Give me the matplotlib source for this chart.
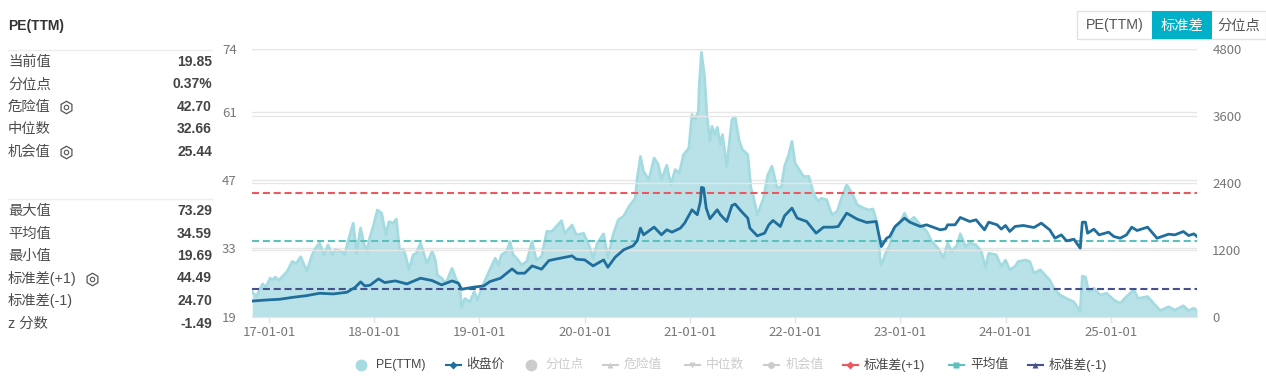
import matplotlib
matplotlib.use('Agg')
import matplotlib.pyplot as plt
from matplotlib.lines import Line2D
from matplotlib.patches import Rectangle

plt.rcParams['font.family'] = ['Liberation Sans', 'Noto Sans CJK SC']

W, H = 1266, 388

# PE(TTM)
pe_t = [2016.84, 2016.85, 2016.88, 2016.91, 2016.94, 2016.97, 2017.01, 2017.03, 2017.06, 2017.09,
        2017.14, 2017.17, 2017.22, 2017.26, 2017.30, 2017.34, 2017.36, 2017.41, 2017.44, 2017.48,
        2017.52, 2017.56, 2017.60, 2017.63, 2017.69, 2017.72, 2017.75, 2017.80, 2017.83, 2017.87,
        2017.90, 2017.93, 2017.96, 2017.99, 2018.03, 2018.07, 2018.11, 2018.14, 2018.18, 2018.21,
        2018.24, 2018.28, 2018.30, 2018.33, 2018.37, 2018.40, 2018.44, 2018.48, 2018.50, 2018.55,
        2018.58, 2018.60, 2018.64, 2018.68, 2018.74, 2018.78, 2018.81, 2018.83, 2018.86, 2018.91,
        2018.95, 2018.98, 2019.04, 2019.09, 2019.15, 2019.18, 2019.21, 2019.26, 2019.29, 2019.32,
        2019.36, 2019.40, 2019.45, 2019.50, 2019.54, 2019.59, 2019.64, 2019.69, 2019.73, 2019.78,
        2019.81, 2019.88, 2019.92, 2019.99, 2020.04, 2020.08, 2020.12, 2020.18, 2020.22, 2020.27,
        2020.32, 2020.37, 2020.42, 2020.48, 2020.50, 2020.53, 2020.56, 2020.61, 2020.66, 2020.70,
        2020.73, 2020.78, 2020.82, 2020.86, 2020.90, 2020.94, 2020.99, 2021.02, 2021.05, 2021.08,
        2021.09, 2021.11, 2021.14, 2021.16, 2021.19, 2021.21, 2021.24, 2021.26, 2021.29, 2021.31,
        2021.35, 2021.40, 2021.43, 2021.47, 2021.50, 2021.55, 2021.58, 2021.60, 2021.64, 2021.70,
        2021.74, 2021.78, 2021.83, 2021.87, 2021.90, 2021.94, 2021.97, 2022.00, 2022.05, 2022.08,
        2022.13, 2022.18, 2022.22, 2022.25, 2022.30, 2022.35, 2022.40, 2022.44, 2022.49, 2022.54,
        2022.59, 2022.65, 2022.70, 2022.74, 2022.78, 2022.81, 2022.82, 2022.86, 2022.90, 2022.94,
        2022.98, 2023.04, 2023.08, 2023.13, 2023.19, 2023.25, 2023.30, 2023.36, 2023.41, 2023.45,
        2023.49, 2023.54, 2023.57, 2023.62, 2023.66, 2023.72, 2023.77, 2023.81, 2023.84, 2023.91,
        2023.96, 2024.00, 2024.04, 2024.09, 2024.12, 2024.19, 2024.23, 2024.27, 2024.33, 2024.42,
        2024.46, 2024.52, 2024.58, 2024.65, 2024.71, 2024.73, 2024.76, 2024.79, 2024.84, 2024.90,
        2024.96, 2025.03, 2025.09, 2025.15, 2025.22, 2025.26, 2025.35, 2025.42, 2025.47, 2025.55,
        2025.61, 2025.69, 2025.74, 2025.79, 2025.82]
pe_v = [24.1, 23.8, 23.1, 24.5, 25.7, 25.0, 26.9, 26.5, 27.1, 26.4,
        27.5, 28.2, 30.3, 29.9, 31.3, 29.3, 28.4, 31.7, 33.0, 34.1,
        31.7, 33.7, 31.7, 32.7, 32.4, 31.7, 34.4, 38.2, 32.0, 37.2,
        34.1, 32.4, 35.4, 37.5, 40.9, 40.25, 35.8, 38.5, 38.2, 39.0,
        32.7, 32.7, 31.3, 28.6, 31.7, 32.0, 34.1, 31.3, 29.9, 32.4,
        30.6, 27.5, 26.9, 25.8, 28.9, 26.5, 25.5, 20.9, 22.7, 22.0,
        24.1, 22.4, 25.8, 28.2, 31.0, 29.6, 31.7, 32.4, 34.4, 31.7,
        30.8, 29.6, 30.3, 34.4, 30.6, 31.3, 36.5, 36.5, 37.5, 38.7,
        36.1, 37.8, 35.8, 36.1, 33.7, 31.0, 34.1, 36.0, 31.0, 35.8,
        38.9, 39.6, 41.6, 43.3, 47.5, 51.9, 48.8, 47.1, 51.6, 50.2,
        47.1, 50.1, 46.1, 49.2, 48.5, 52.3, 53.6, 60.5, 59.5, 61.2,
        66.7, 73.3, 68.1, 60.8, 55.0, 58.1, 56.4, 57.9, 54.3, 56.4,
        49.9, 59.5, 60.0, 55.0, 53.3, 52.3, 45.4, 44.0, 39.9, 43.3,
        48.1, 49.9, 45.4, 45.7, 49.9, 52.3, 55.0, 50.5, 48.8, 47.8,
        47.8, 44.0, 42.7, 43.3, 43.0, 39.9, 40.6, 43.3, 46.1, 44.4,
        42.0, 41.3, 40.9, 41.1, 38.2, 30.3, 29.6, 32.0, 33.7, 37.2,
        37.5, 40.25, 38.5, 39.4, 37.8, 36.5, 34.4, 33.0, 31.1, 34.1,
        32.35, 33.7, 36.0, 33.4, 34.1, 33.7, 32.35, 29.05, 32.0, 31.7,
        29.3, 30.6, 28.6, 29.3, 30.3, 30.6, 30.3, 27.9, 28.6, 26.5,
        24.8, 23.4, 22.7, 22.0, 20.0, 27.3, 27.1, 24.1, 24.8, 23.4,
        23.8, 22.4, 21.7, 23.1, 24.5, 22.7, 23.1, 21.4, 20.2, 21.0,
        20.3, 21.2, 20.2, 20.7, 20.2]

# closing price, right axis
close_t = [2016.85, 2016.98, 2017.10, 2017.23, 2017.36, 2017.48, 2017.61, 2017.74, 2017.82, 2017.87,
           2017.91, 2017.96, 2018.04, 2018.10, 2018.20, 2018.31, 2018.44, 2018.55, 2018.64, 2018.74,
           2018.80, 2018.83, 2018.94, 2019.04, 2019.10, 2019.20, 2019.31, 2019.36, 2019.43, 2019.50,
           2019.59, 2019.66, 2019.72, 2019.88, 2019.92, 2020.00, 2020.08, 2020.18, 2020.22, 2020.29,
           2020.37, 2020.46, 2020.50, 2020.53, 2020.56, 2020.66, 2020.73, 2020.78, 2020.83, 2020.91,
           2020.95, 2021.02, 2021.07, 2021.10, 2021.11, 2021.13, 2021.155, 2021.19, 2021.26, 2021.29,
           2021.35, 2021.40, 2021.43, 2021.49, 2021.55, 2021.57, 2021.64, 2021.71, 2021.75, 2021.79,
           2021.86, 2021.90, 2021.97, 2022.02, 2022.11, 2022.20, 2022.27, 2022.36, 2022.41, 2022.49,
           2022.59, 2022.68, 2022.77, 2022.82, 2022.87, 2022.90, 2022.95, 2023.04, 2023.09, 2023.19,
           2023.25, 2023.38, 2023.43, 2023.45, 2023.52, 2023.57, 2023.66, 2023.72, 2023.80, 2023.84,
           2023.92, 2023.96, 2024.00, 2024.04, 2024.09, 2024.17, 2024.27, 2024.34, 2024.42, 2024.47,
           2024.53, 2024.58, 2024.65, 2024.71, 2024.73, 2024.76, 2024.78, 2024.84, 2024.89, 2024.98,
           2025.03, 2025.09, 2025.15, 2025.20, 2025.25, 2025.35, 2025.44, 2025.55, 2025.61, 2025.69,
           2025.74, 2025.79, 2025.82]
close_v = [279, 297, 309, 345, 375, 417, 405, 435, 525, 621,
           549, 561, 675, 609, 639, 585, 687, 645, 567, 639,
           597, 489, 525, 549, 627, 687, 854, 777, 777, 908,
           849, 1004, 1028, 1088, 1028, 1016, 908, 1016, 884, 1064,
           1196, 1268, 1364, 1586, 1466, 1604, 1466, 1556, 1514, 1586,
           1676, 1915, 1826, 2065, 2317, 2305, 1945, 1754, 1915, 1826,
           1706, 1993, 2017, 1885, 1766, 1586, 1447, 1495, 1645, 1723,
           1615, 1807, 1945, 1765, 1705, 1495, 1603, 1603, 1615, 1855,
           1747, 1687, 1705, 1255, 1405, 1436, 1615, 1765, 1693, 1615,
           1645, 1555, 1573, 1645, 1645, 1777, 1705, 1735, 1555, 1693,
           1645, 1568, 1633, 1526, 1615, 1633, 1597, 1675, 1555, 1405,
           1465, 1357, 1387, 1226, 1693, 1693, 1495, 1567, 1465, 1513,
           1435, 1405, 1465, 1603, 1543, 1603, 1405, 1477, 1465, 1525,
           1453, 1483, 1435]

std_plus = 44.49
pe_mean = 34.59
std_minus = 24.70

year_ticks = [2017, 2018, 2019, 2020, 2021, 2022, 2023, 2024, 2025]
year_labels = ['17-01-01', '18-01-01', '19-01-01', '20-01-01', '21-01-01',
               '22-01-01', '23-01-01', '24-01-01', '25-01-01']
left_ticks = [19, 33, 47, 61, 74]
right_ticks = [0, 1200, 2400, 3600, 4800]

top_rows = [('当前值', '19.85'), ('分位点', '0.37%'), ('危险值', '42.70'),
            ('中位数', '32.66'), ('机会值', '25.44')]
bottom_rows = [('最大值', '73.29'), ('平均值', '34.59'), ('最小值', '19.69'),
               ('标准差(+1)', '44.49'), ('标准差(-1)', '24.70'), ('z 分数', '-1.49')]

fig = plt.figure(figsize=(12.66, 3.88), dpi=100, facecolor='white')


def fx(x):
    return x / W


def fy(y):
    return 1 - y / H


def label(x, y, s, **kw):
    kw.setdefault('va', 'center')
    kw.setdefault('color', '#444444')
    kw.setdefault('fontsize', 10)
    fig.text(fx(x), fy(y), s, **kw)


def mark(x, y, **kw):
    fig.add_artist(Line2D([fx(x)], [fy(y)], transform=fig.transFigure, **kw))


def rule(x0, x1, y, color='#eeeeee', lw=1.0):
    fig.add_artist(Line2D([fx(x0), fx(x1)], [fy(y), fy(y)], transform=fig.transFigure, color=color, lw=lw))


def gear(x, y):
    mark(x, y, marker='h', ms=9, mfc='white', mec='#555555', mew=0.9)
    mark(x, y, marker='o', ms=3.2, mfc='white', mec='#555555', mew=0.8)


# main axes
ax = fig.add_axes([fx(252), fy(316.5), 945 / W, 267.5 / H])
ax2 = ax.twinx()
ax2.set_zorder(ax.get_zorder() + 1)
ax2.patch.set_visible(False)

ax.set_xlim(2016.838, 2025.82)
ax.set_ylim(19, 74)
ax2.set_ylim(0, 4800)

ax.set_yticks(left_ticks)
ax2.set_yticks(right_ticks)
ax.set_xticks(year_ticks)
ax.set_xticklabels(year_labels)
ax.grid(axis='y', color='#e6e6e6', lw=1.0)
ax2.grid(axis='y', color='#e6e6e6', lw=1.0)
ax.set_axisbelow(True)

ax.fill_between(pe_t, pe_v, 19, color='#b0dfe5', alpha=0.88, lw=0, zorder=2)
ax.plot(pe_t, pe_v, color='#a4dbe1', lw=2.0, zorder=3)

dash = (0, (3.4, 1.8))
ax.axhline(std_plus, color='#e9595f', lw=1.5, ls=dash, zorder=4)
ax.axhline(pe_mean, color='#5cc0bd', lw=1.5, ls=dash, zorder=4)
ax.axhline(std_minus, color='#46508f', lw=1.5, ls=dash, zorder=4)

ax2.plot(close_t, close_v, color='#1f6e9c', lw=2.0, zorder=5)

for a in (ax, ax2):
    for s in a.spines.values():
        s.set_visible(False)
ax.spines['bottom'].set_visible(True)
ax.spines['bottom'].set_color('#dfe4f2')
ax.tick_params(axis='x', length=4, width=1, color='#dfe4f2', labelsize=9.5, labelcolor='#777777', pad=3)
ax.tick_params(axis='y', length=0, labelsize=9.5, labelcolor='#777777', pad=11)
ax2.tick_params(axis='y', length=0, labelsize=9.5, labelcolor='#777777', pad=11)
for t in ax.get_xticklabels() + ax.get_yticklabels() + ax2.get_yticklabels():
    t.set_family('Noto Sans CJK SC')

# left panel
label(8, 26, 'PE(TTM)', fontweight='bold', color='#333333')
rule(8, 212, 50)
rule(8, 212, 199)
for i, (name, val) in enumerate(top_rows):
    y = 62 + i * 22.5
    label(8, y, name, fontsize=10.3, color='#4d4d4d')
    label(212, y, val, ha='right', fontweight='bold')
for i, (name, val) in enumerate(bottom_rows):
    y = 211 + i * 22.5
    label(8, y, name, fontsize=10.3, color='#4d4d4d')
    label(212, y, val, ha='right', fontweight='bold')
gear(66, 107)
gear(66, 152)
gear(92, 278.5)

# buttons
fig.add_artist(Rectangle((fx(1077), fy(39)), 189 / W, 28 / H, transform=fig.transFigure,
                         fc='white', ec='#e2e2e2', lw=1))
fig.add_artist(Rectangle((fx(1152), fy(39)), 60 / W, 28 / H, transform=fig.transFigure,
                         fc='#00afc8', ec='none'))
label(1114.5, 25.5, 'PE(TTM)', ha='center', color='#555555', fontsize=10.3)
label(1182, 25.5, '标准差', ha='center', color='white', fontsize=10.3)
label(1239, 25.5, '分位点', ha='center', color='#555555', fontsize=10.3)

# legend
ly = 365
on = '#444444'
off = '#cccccc'
mark(361, ly, marker='o', ms=8.5, mfc='#a5dbe1', mec='none')
label(376, ly, 'PE(TTM)', fontsize=8.8, color=on)


def legend_item(x, color, marker, text, tx, tcolor, ms=5):
    fig.add_artist(Line2D([fx(x - 7.5), fx(x + 7.5)], [fy(ly), fy(ly)], transform=fig.transFigure,
                          color=color, lw=1.5))
    mark(x, ly, marker=marker, ms=ms, mfc=color, mec='none')
    label(tx, ly, text, fontsize=9.2, color=tcolor)


legend_item(453, '#1f6e9c', 'D', '收盘价', 466, on, ms=4)
mark(531, ly, marker='o', ms=8.5, mfc=off, mec='none')
label(545, ly, '分位点', fontsize=9.2, color=off)
legend_item(610, off, '^', '危险值', 624, off, ms=5)
legend_item(692, off, 'v', '中位数', 706, off, ms=5)
legend_item(771, off, 'o', '机会值', 786, off, ms=5)
legend_item(850, '#e9595f', 'D', '标准差(+1)', 864, on, ms=4)
legend_item(956, '#5cc0bd', 's', '平均值', 970, on, ms=5)
legend_item(1035, '#46508f', '^', '标准差(-1)', 1049, on, ms=5)

fig.savefig('out.png', dpi=100, facecolor='white')
